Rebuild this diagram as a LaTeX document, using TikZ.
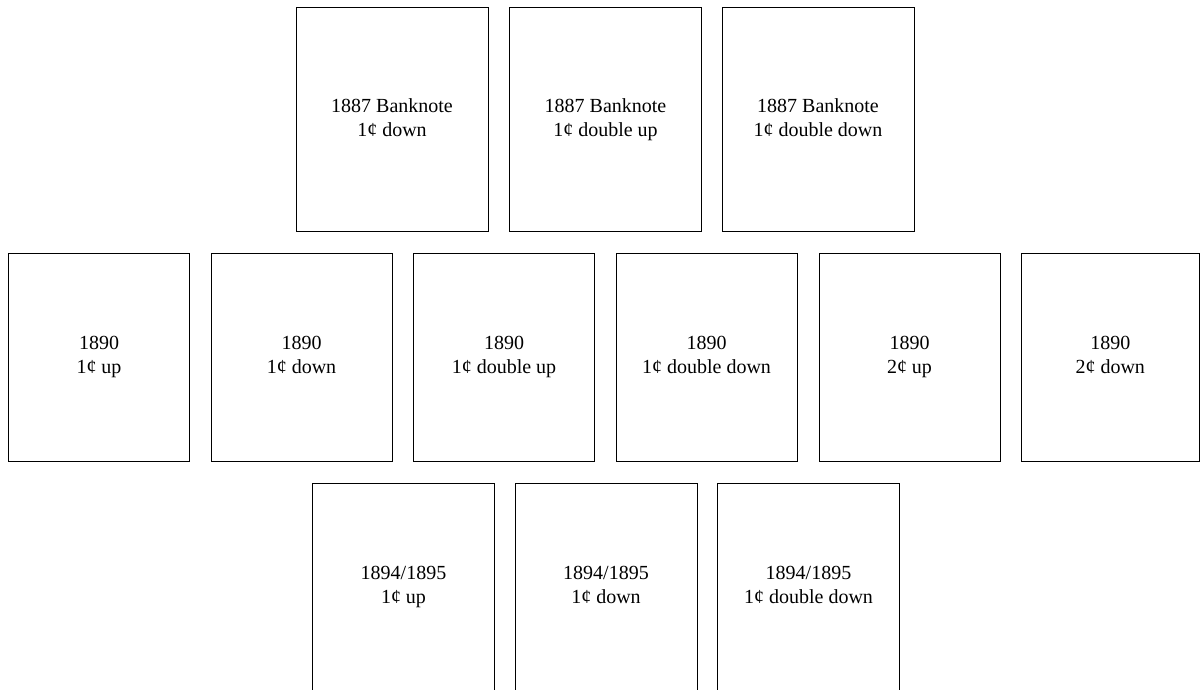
\documentclass[tikz,border=0pt]{standalone}
\usepackage{fontspec}
\setmainfont{Liberation Serif}
\tikzset{
  stamp/.style={draw=black, line width=1pt, rectangle, align=center, inner sep=0pt,
    font=\fontsize{20}{24}\selectfont},
  rowa/.style={stamp, minimum width=192pt, minimum height=223pt},
  rowb/.style={stamp, minimum width=181pt, minimum height=208pt},
  rowc/.style={stamp, minimum width=182pt, minimum height=208pt}
}
\begin{document}
\begin{tikzpicture}[x=1pt,y=-1pt]
\useasboundingbox (0,0) rectangle (1201,690);
% row 1
\node[rowa] (a1) at (392,119.5) {\strut 1887 Banknote\\\strut 1¢ down};
\node[rowa] (a2) at (605.5,119.5) {\strut 1887 Banknote\\\strut 1¢ double up};
\node[rowa] (a3) at (818,119.5) {\strut 1887 Banknote\\\strut 1¢ double down};
% row 2
\node[rowb] (b1) at (99,357) {\strut 1890\\\strut 1¢ up};
\node[rowb] (b2) at (301.5,357) {\strut 1890\\\strut 1¢ down};
\node[rowb] (b3) at (504,357) {\strut 1890\\\strut 1¢ double up};
\node[rowb] (b4) at (706.5,357) {\strut 1890\\\strut 1¢ double down};
\node[rowb] (b5) at (909.5,357) {\strut 1890\\\strut 2¢ up};
\node[rowb, minimum width=178.5pt] (b6) at (1110.25,357) {\strut 1890\\\strut 2¢ down};
% row 3
\node[rowc] (c1) at (403.5,587) {\strut 1894/1895\\\strut 1¢ up};
\node[rowc] (c2) at (606,587) {\strut 1894/1895\\\strut 1¢ down};
\node[rowc] (c3) at (808.5,587) {\strut 1894/1895\\\strut 1¢ double down};
\end{tikzpicture}
\end{document}
